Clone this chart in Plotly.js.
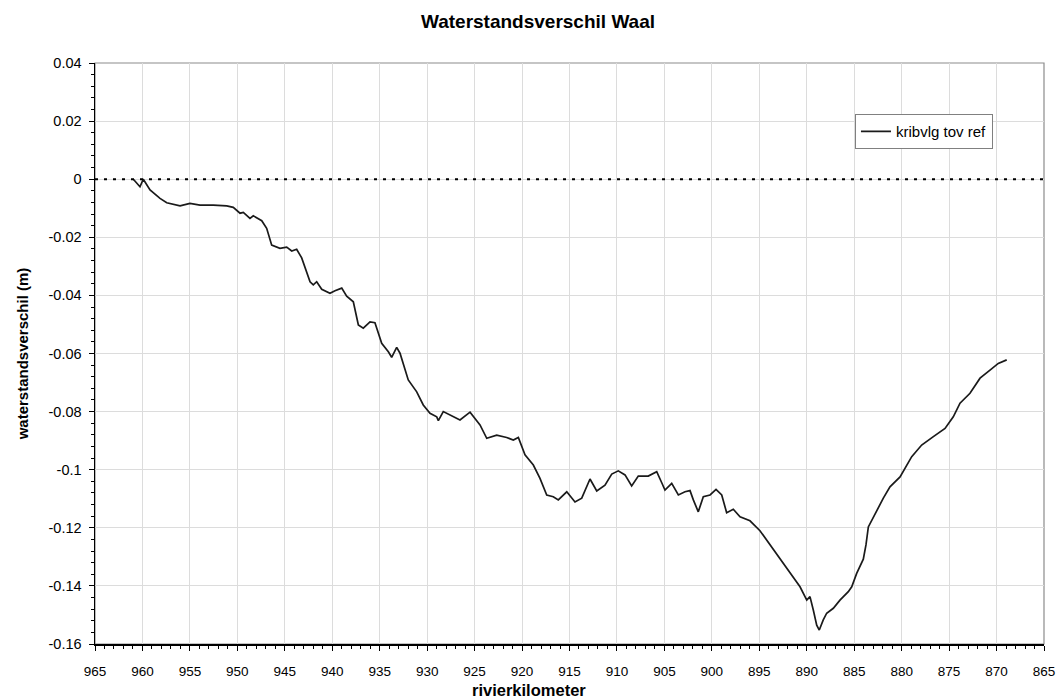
<!DOCTYPE html>
<html>
<head>
<meta charset="utf-8">
<script src="https://cdn.plot.ly/plotly-3.0.1.min.js"></script>
<style>html,body{margin:0;padding:0;background:#fff;}#chart{width:1058px;height:699px;}</style>
</head>
<body>
<div id="chart"></div>
<script>
// rivierkilometer
const km = [960.96,960.26,959.91,959.2,958.15,957.44,956.04,954.99,953.94,952.53,951.12,950.43,949.72,949.37,948.67,948.32,947.43,946.91,946.38,945.51,944.8,944.27,943.75,943.22,942.34,942.0,941.64,941.11,940.24,939.71,939.0,938.48,937.78,937.25,936.73,936.02,935.5,934.79,934.09,933.74,933.21,932.86,931.99,931.1,930.41,929.7,928.99,928.82,928.3,927.59,926.54,925.48,924.43,923.72,922.67,921.62,920.92,920.39,919.69,918.81,918.11,917.4,916.71,916.18,915.29,914.42,913.71,912.84,912.13,911.26,910.55,909.86,909.15,908.45,907.75,906.7,905.81,905.28,904.94,904.23,903.53,902.83,902.3,901.95,901.43,900.9,900.19,899.56,898.96,898.44,897.74,897.03,895.98,894.93,893.87,892.82,891.76,890.71,890.0,889.66,889.31,888.95,888.68,888.26,887.9,887.2,886.5,885.62,885.26,884.74,884.04,883.76,883.51,882.63,881.93,881.23,880.17,878.94,877.89,876.66,875.43,874.56,873.85,872.8,871.74,870.69,869.82,868.93];
// waterstandsverschil kribvlg tov ref (m)
const verschil = [0.0,-0.0026,0.0,-0.0037,-0.0066,-0.0081,-0.0092,-0.0083,-0.0089,-0.0089,-0.0092,-0.0097,-0.0117,-0.0114,-0.0135,-0.0126,-0.0143,-0.0169,-0.0227,-0.0238,-0.0234,-0.0247,-0.0241,-0.0271,-0.0353,-0.0364,-0.0353,-0.0379,-0.0393,-0.0384,-0.0375,-0.0403,-0.0422,-0.0502,-0.0513,-0.0491,-0.0494,-0.0565,-0.0594,-0.0613,-0.0579,-0.0599,-0.0691,-0.0732,-0.0777,-0.0806,-0.0818,-0.0831,-0.0800,-0.0812,-0.0829,-0.0802,-0.0846,-0.0892,-0.0881,-0.0889,-0.0898,-0.0889,-0.0949,-0.0984,-0.103,-0.1087,-0.1093,-0.1104,-0.1076,-0.1111,-0.1098,-0.1032,-0.1073,-0.1053,-0.1015,-0.1004,-0.1018,-0.1056,-0.1022,-0.1022,-0.1007,-0.1045,-0.107,-0.1047,-0.1087,-0.1076,-0.1072,-0.1104,-0.1145,-0.1093,-0.1087,-0.1068,-0.1087,-0.1148,-0.1136,-0.1162,-0.1176,-0.121,-0.1259,-0.1305,-0.1357,-0.1403,-0.1449,-0.1437,-0.1483,-0.1535,-0.1552,-0.1517,-0.1494,-0.1477,-0.1449,-0.142,-0.1403,-0.1357,-0.1308,-0.1259,-0.1197,-0.1139,-0.1098,-0.1059,-0.1025,-0.0955,-0.0915,-0.0886,-0.0858,-0.0818,-0.0771,-0.0737,-0.0685,-0.0657,-0.0634,-0.0622];

const yTickVals = [0.04,0.02,0,-0.02,-0.04,-0.06,-0.08,-0.1,-0.12,-0.14,-0.16];
const yTickText = ["0.04","0.02","0","-0.02","-0.04","-0.06","-0.08","-0.1","-0.12","-0.14","-0.16"];
const xTickVals = [965,960,955,950,945,940,935,930,925,920,915,910,905,900,895,890,885,880,875,870,865];

const FONT = 'Arial, "Liberation Sans", sans-serif';

const trace = {
  x: km, y: verschil, type: 'scatter', mode: 'lines',
  name: 'kribvlg tov ref',
  line: {color: '#1a1a1a', width: 1.7}
};

const layout = {
  width: 1058, height: 699,
  margin: {l: 95, r: 14, t: 63, b: 55},
  paper_bgcolor: '#fff', plot_bgcolor: '#fff',
  font: {family: FONT, size: 14, color: '#000'},
  title: {text: '<b>Waterstandsverschil Waal</b>', font: {family: FONT, size: 19, color: '#000'},
          xref: 'container', x: 0.5085, xanchor: 'center', yref: 'container', y: 0.969, yanchor: 'middle'},
  showlegend: true,
  legend: {x: 0.8008, y: 0.912, xanchor: 'left', yanchor: 'top', bgcolor: '#fff',
           bordercolor: '#808080', borderwidth: 1, font: {family: FONT, size: 15, color: '#000'},
           itemwidth: 30, tracegroupgap: 0},
  xaxis: {
    range: [965, 865], tickvals: xTickVals, ticks: 'outside', ticklen: 5, tickcolor: '#000',
    showline: true, linecolor: '#000', linewidth: 1.5, showgrid: true, gridcolor: '#dcdcdc', gridwidth: 1,
    zeroline: false, tickfont: {family: FONT, size: 13.5, color: '#000'}, ticklabelstandoff: 9,
    minor: {dtick: 1, ticks: 'outside', ticklen: 3, tickcolor: '#000', showgrid: false}
  },
  yaxis: {
    range: [-0.16, 0.04], tickvals: yTickVals, ticktext: yTickText, ticks: 'outside', ticklen: 5, tickcolor: '#000',
    showline: true, linecolor: '#000', linewidth: 1.5, showgrid: true, gridcolor: '#dcdcdc', gridwidth: 1,
    zeroline: false, tickfont: {family: FONT, size: 14.5, color: '#000'}, ticklabelstandoff: 4,
    minor: {dtick: 0.004, ticks: 'outside', ticklen: 3, tickcolor: '#000', showgrid: false},
    title: {text: '<b>waterstandsverschil (m)</b>', font: {family: FONT, size: 15, color: '#000'}, standoff: 16}
  },
  annotations: [
    {text: '<b>rivierkilometer</b>', xref: 'paper', yref: 'paper', x: 0.457, y: -0.079,
     xanchor: 'center', yanchor: 'middle', showarrow: false, font: {family: FONT, size: 16.5, color: '#000'}}
  ],
  shapes: [
    {type: 'rect', xref: 'paper', yref: 'paper', x0: 0, x1: 1, y0: 0, y1: 1, line: {color: '#8c8c8c', width: 1.2}, layer: 'below'},
    {type: 'line', xref: 'paper', yref: 'y', x0: 0, x1: 1, y0: 0, y1: 0, line: {color: '#000', width: 2, dash: '3px,6px'}}
  ]
};

Plotly.newPlot('chart', [trace], layout, {displayModeBar: false, staticPlot: true});
</script>
</body>
</html>
